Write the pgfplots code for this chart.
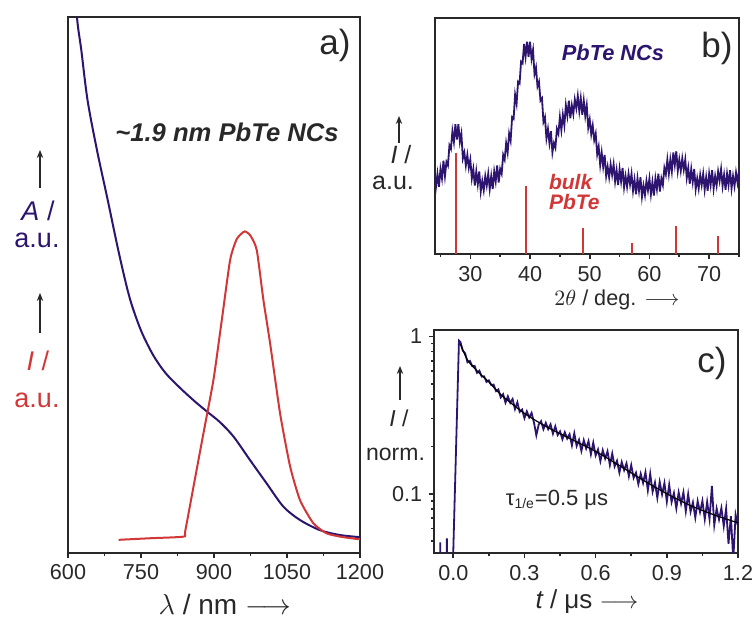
\documentclass[border=0pt]{standalone}
\usepackage{fontspec}
\setmainfont{Liberation Sans}
\usepackage{pgfplots}
\pgfplotsset{compat=1.18}
\usetikzlibrary{arrows.meta}

\definecolor{navy}{RGB}{45,20,110}
\definecolor{pred}{RGB}{210,55,55}
\definecolor{ink}{RGB}{40,40,40}

\pgfplotsset{panel/.style={
    scale only axis, anchor=south west,
    axis line style={ink, line width=1pt},
    tick style={ink, line width=0.8pt}, tick align=outside,
    major tick length=2.5pt, minor tick length=1.6pt,
    ticklabel style={font=\fontsize{10.8}{12}\selectfont, text=ink},
    /pgf/number format/assume math mode=true,
    /pgf/number format/1000 sep={},
    xtick pos=bottom, ytick pos=left,
}}

\begin{document}
\begin{tikzpicture}
\useasboundingbox (0,0) rectangle (378pt,310.5pt);

% a) absorption and PL
\begin{axis}[panel, at={(34pt,34.15pt)}, width=146pt, height=267.7pt,
    xmin=600, xmax=1200, ymin=0, ymax=100,
    xtick={600,750,900,1050,1200}, minor x tick num=1, ytick=\empty]
\addplot[navy, line width=1pt, smooth, tension=0.5] coordinates {
    (612,111) (618.5,100) (627.3,93.9) (640.2,84.5) (659.5,75.2) (681.3,66)
    (705,55.8) (727,47.5) (750,41.5) (775,36.9) (800,33.6) (830,30.8)
    (860,28.3) (885,26.4) (912,24.4) (940,21.7) (974,17.3) (1008.5,12.9)
    (1042.6,8.6) (1076.8,6.1) (1117.9,4.2) (1158.9,3.3) (1200,2.9)};
\addplot[pred, line width=1pt, smooth, tension=0.35] coordinates {
    (703.9,2.4) (768.9,2.7) (837.3,3.0) (840.8,4.0) (857.8,12.3) (878.3,22.3)
    (898.9,32.3) (916.1,43.5) (933.2,54.7) (946.9,58.6) (962.8,60.0)
    (975,59.2) (987.9,56.5) (1001.5,47.2) (1015.3,39.1) (1035.8,26.0)
    (1056.4,16.1) (1076.8,9.8) (1104.1,5.5) (1131.6,3.6) (1165.7,2.9) (1200,2.5)};
\end{axis}

% b) XRD
\begin{axis}[panel, at={(217.25pt,183.5pt)}, width=152.25pt, height=118pt,
    xmin=24, xmax=75, ymin=0, ymax=100,
    xtick={30,40,50,60,70}, minor xtick={25,35,45,55,65,75}, ytick=\empty]
\addplot[navy, line width=0.9pt] coordinates {
(24.00,35) (24.25,28.5) (24.50,34) (24.75,28.5) (25.00,36) (25.25,32) (25.50,39.5) (25.75,33)
(26.00,39) (26.25,37.5) (26.50,46) (26.75,44.5) (27.00,52) (27.25,47.5) (27.50,55) (27.75,48.5)
(28.00,55) (28.25,47.5) (28.50,51) (28.75,40.5) (29.00,43) (29.25,37.5) (29.50,42) (29.75,36.5)
(30.00,40) (30.25,32) (30.50,36) (30.75,29) (31.00,35) (31.25,29.5) (31.50,35) (31.75,26.5)
(32.00,31) (32.25,27) (32.50,33) (32.75,29) (33.00,34) (33.25,27.5) (33.50,33) (33.75,27.5)
(34.00,35) (34.25,30.75) (34.50,37.5) (34.75,30.25) (35.00,36) (35.25,34) (35.50,42) (35.75,40)
(36.00,47) (36.25,43) (36.50,51) (36.75,48) (37.00,58) (37.25,57.25) (37.50,67.5) (37.75,63.75)
(38.00,73) (38.25,72.25) (38.50,81.5) (38.75,80.75) (39.00,89) (39.25,83.5) (39.50,90) (39.75,83.5)
(40.00,90) (40.25,82.75) (40.50,86.5) (40.75,76.25) (41.00,79) (41.25,71) (41.50,73) (41.75,65)
(42.00,66) (42.25,56) (42.50,58) (42.75,49) (43.00,53) (43.25,47) (43.50,52) (43.75,43)
(44.00,47) (44.25,45) (44.50,53) (44.75,51) (45.00,58) (45.25,52.5) (45.50,59) (45.75,54.5)
(46.00,63) (46.25,58.5) (46.50,65) (46.75,57.5) (47.00,63) (47.25,59.25) (47.50,65.5) (47.75,61.75)
(48.00,67) (48.25,60.5) (48.50,66) (48.75,59) (49.00,65) (49.25,58.5) (49.50,63) (49.75,53.5)
(50.00,57) (50.25,50.75) (50.50,54.5) (50.75,48.25) (51.00,51) (51.25,42.25) (51.50,45.5) (51.75,37.75)
(52.00,43) (52.25,37) (52.50,42) (52.75,33) (53.00,37) (53.25,32.5) (53.50,38) (53.75,33.5)
(54.00,38) (54.25,30.75) (54.50,35.5) (54.75,29.25) (55.00,36) (55.25,30.75) (55.50,36.5) (55.75,28.25)
(56.00,33) (56.25,28.5) (56.50,34) (56.75,29.5) (57.00,34) (57.25,26.75) (57.50,31.5) (57.75,25.25)
(58.00,32) (58.25,26.75) (58.50,32.5) (58.75,24.25) (59.00,29) (59.25,25) (59.50,31) (59.75,27)
(60.00,32) (60.25,25.25) (60.50,30.5) (60.75,24.75) (61.00,32) (61.25,27.5) (61.50,34) (61.75,26.5)
(62.00,32) (62.25,29.25) (62.50,36.5) (62.75,33.75) (63.00,40) (63.25,34) (63.50,40) (63.75,35)
(64.00,43) (64.25,37.75) (64.50,43.5) (64.75,35.25) (65.00,40) (65.25,35.25) (65.50,40.5) (65.75,35.75)
(66.00,40) (66.25,32.25) (66.50,36.5) (66.75,29.75) (67.00,36) (67.25,30.5) (67.50,36) (67.75,27.5)
(68.00,32) (68.25,27.75) (68.50,33.5) (68.75,29.25) (69.00,34) (69.25,27.25) (69.50,32.5) (69.75,26.75)
(70.00,34) (70.25,29.25) (70.50,35.5) (70.75,27.75) (71.00,33) (71.25,29) (71.50,35) (71.75,31)
(72.00,36) (72.25,28.75) (72.50,33.5) (72.75,27.25) (73.00,34) (73.25,29.25) (73.50,35.5) (73.75,27.75)
(74.00,33) (74.25,28.75) (74.50,34.5) (74.75,30.25) (75.00,35)};
\addplot[pred, line width=1pt, ycomb] coordinates {
    (27.6,43) (39.4,29) (48.8,11) (57.0,4.7) (64.45,11.9) (71.5,7.6)};
\end{axis}

% c) PL decay
\begin{axis}[panel, at={(217.15pt,34pt)}, width=151.85pt, height=111.25pt,
    xmin=-0.08, xmax=1.2, ymode=log, ymin=0.042, ymax=1.09,
    xtick={0,0.3,0.6,0.9,1.2}, minor xtick={0.15,0.45,0.75,1.05},
    xticklabel style={/pgf/number format/.cd, fixed, fixed zerofill, precision=1},
    ytick={0.1,1}, yticklabels={0.1,1},
    minor ytick={0.05,0.06,0.07,0.08,0.09,0.2,0.3,0.4,0.5,0.6,0.7,0.8,0.9}]
\addplot[navy, line width=0.9pt] coordinates {
(-0.08,0.02) (-0.056,0.02) (-0.055,0.049) (-0.054,0.02) (-0.028,0.02) (-0.027,0.052) (-0.026,0.02)
(-0.006,0.02) (0.024,0.94)
(0.03,0.922) (0.04,0.813) (0.05,0.780) (0.06,0.684) (0.07,0.698) (0.08,0.648) (0.09,0.649) (0.10,0.587)
(0.11,0.605) (0.12,0.555) (0.13,0.557) (0.14,0.513) (0.15,0.525) (0.16,0.491) (0.17,0.494) (0.18,0.449)
(0.19,0.460) (0.20,0.409) (0.21,0.429) (0.22,0.379) (0.23,0.416) (0.24,0.378) (0.25,0.400) (0.26,0.345)
(0.27,0.381) (0.28,0.331) (0.29,0.343) (0.30,0.302) (0.31,0.334) (0.32,0.305) (0.33,0.326) (0.34,0.284)
(0.35,0.235) (0.36,0.275) (0.37,0.289) (0.38,0.257) (0.39,0.282) (0.40,0.257) (0.41,0.276) (0.42,0.241)
(0.43,0.268) (0.44,0.236) (0.45,0.249) (0.46,0.222) (0.47,0.246) (0.48,0.224) (0.49,0.239) (0.50,0.203)
(0.51,0.242) (0.52,0.201) (0.53,0.220) (0.54,0.187) (0.55,0.219) (0.56,0.194) (0.57,0.216) (0.58,0.178)
(0.59,0.211) (0.60,0.175) (0.61,0.191) (0.62,0.161) (0.63,0.189) (0.64,0.167) (0.65,0.186) (0.66,0.152)
(0.67,0.180) (0.68,0.149) (0.69,0.162) (0.70,0.136) (0.71,0.159) (0.72,0.141) (0.73,0.156) (0.74,0.129)
(0.75,0.152) (0.76,0.126) (0.77,0.136) (0.78,0.115) (0.79,0.134) (0.80,0.117) (0.81,0.137) (0.82,0.105)
(0.83,0.134) (0.84,0.103) (0.85,0.118) (0.86,0.094) (0.87,0.119) (0.88,0.099) (0.89,0.117) (0.90,0.089)
(0.91,0.114) (0.92,0.0885) (0.93,0.101) (0.94,0.0806) (0.95,0.102) (0.96,0.0865) (0.97,0.102) (0.98,0.0774)
(0.99,0.0995) (1.00,0.0769) (1.01,0.0881) (1.02,0.0705) (1.03,0.0898) (1.04,0.0763) (1.05,0.090) (1.06,0.0688)
(1.07,0.0888) (1.08,0.069) (1.09,0.112) (1.10,0.0631) (1.11,0.0805) (1.12,0.0685) (1.13,0.0811) (1.14,0.0622)
(1.15,0.0805) (1.16,0.048) (1.17,0.0719) (1.18,0.038) (1.19,0.0734) (1.20,0.0624)};
\addplot[black, line width=0.6pt, smooth] coordinates {
    (0.03,0.891) (0.06,0.708) (0.1,0.603) (0.15,0.513) (0.2,0.427) (0.3,0.324)
    (0.4,0.263) (0.5,0.221) (0.6,0.186) (0.7,0.151) (0.8,0.122) (0.9,0.100)
    (1.0,0.0841) (1.1,0.0733) (1.2,0.0653)};
\end{axis}

% labels, in pixel coordinates of the reference
\begin{scope}[x=0.5pt, y=-0.5pt, yshift=310.5pt]
\tikzset{arr/.style={ink, line width=1pt, -{Stealth[length=4pt,width=3.2pt]}}}
% panel a
\node[font=\fontsize{17.5}{18}\selectfont, text=ink] at (335,45) {a)};
\node[font=\fontsize{12.8}{14}\selectfont\bfseries\itshape, text=ink] at (227,132) {\textasciitilde1.9 nm PbTe NCs};
\draw[arr] (40,188) -- (40,150);
\node[font=\fontsize{13.5}{15}\selectfont, text=navy] at (38,211) {\itshape A\upshape{} /};
\node[font=\fontsize{13.5}{15}\selectfont, text=navy] at (37,240) {a.u.};
\draw[arr] (40,333) -- (40,293);
\node[font=\fontsize{13.5}{15}\selectfont, text=pred] at (38,361) {\itshape I\upshape{} /};
\node[font=\fontsize{13.5}{15}\selectfont, text=pred] at (37,400) {a.u.};
\node[font=\fontsize{14}{15}\selectfont, text=ink] at (225,604) {$\lambda$ / nm $\longrightarrow$};
% panel b
\node[font=\fontsize{17.5}{18}\selectfont, text=ink] at (717,48) {b)};
\node[font=\fontsize{10.9}{12}\selectfont\bfseries\itshape, text=navy] at (613,53) {PbTe NCs};
\node[font=\fontsize{10.5}{12}\selectfont\bfseries\itshape, text=pred, anchor=west] at (542,182) {bulk};
\node[font=\fontsize{10.5}{12}\selectfont\bfseries\itshape, text=pred, anchor=west] at (542,202) {PbTe};
\draw[arr] (399,143) -- (399,116);
\node[font=\fontsize{12.5}{14}\selectfont, text=ink] at (401,155) {\itshape I\upshape{} /};
\node[font=\fontsize{12.5}{14}\selectfont, text=ink, anchor=east] at (421,183) {a.u.};
\node[font=\fontsize{10.8}{12}\selectfont, text=ink] at (617,300) {$2\theta$ / deg. $\longrightarrow$};
% panel c
\node[font=\fontsize{17.5}{18}\selectfont, text=ink] at (712,363) {c)};
\node[font=\fontsize{11}{12}\selectfont, text=ink] at (557,500) {τ\textsubscript{\fontsize{7}{8}\selectfont 1/e}=0.5 μs};
\draw[arr] (400,400) -- (400,366);
\node[font=\fontsize{11.5}{13}\selectfont, text=ink] at (399,418) {\itshape I\upshape{} /};
\node[font=\fontsize{11.5}{13}\selectfont, text=ink, anchor=east] at (432,454) {norm.};
\node[font=\fontsize{13}{14}\selectfont, text=ink] at (587,602) {\itshape t\upshape{} / μs $\longrightarrow$};
\end{scope}
\end{tikzpicture}
\end{document}
